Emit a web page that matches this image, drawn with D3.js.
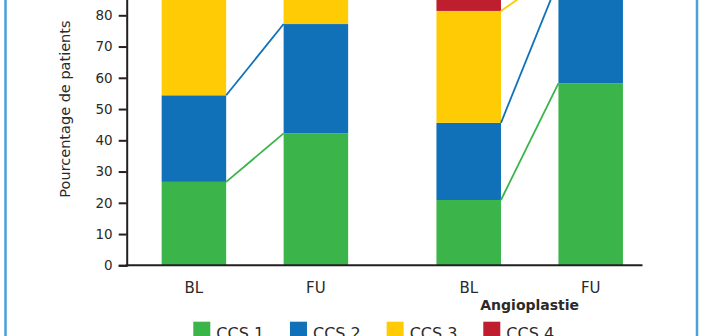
<!DOCTYPE html>
<html><head><meta charset="utf-8">
<script src="https://cdn.jsdelivr.net/npm/d3@7/dist/d3.min.js"></script>
<style>
html,body{margin:0;padding:0;background:#fff;}
svg{display:block;}
text{font-family:"DejaVu Sans",sans-serif;fill:#2b2a29;}
</style></head>
<body>
<script>
// ---- data ----
const groups = ["Pontage", "Angioplastie"];
const groupLabels = ["", "Angioplastie"];
const periods = ["BL", "FU"];
const series = ["CCS 1", "CCS 2", "CCS 3", "CCS 4"];
const colors = ["#3bb44a", "#1071b9", "#ffcb05", "#bf1e2e"];
// values per bar, order: [group1 BL, group1 FU, group2 BL, group2 FU]
const ccs1 = [26.7, 42.2, 20.9, 58.2];
const ccs2 = [27.7, 35.0, 24.7, 32.9];
const ccs3 = [42.6, 20.8, 35.8, 3.0];
const ccs4 = [3.0, 2.0, 18.6, 5.9];
const yTicks = [0, 10, 20, 30, 40, 50, 60, 70, 80, 90, 100];
const yLabel = "Pourcentage de patients";

const W = 702, H = 336;
const svg = d3.select("body").append("svg").attr("width", W).attr("height", H);

// frame lines
svg.append("line").attr("x1", 5.5).attr("x2", 5.5).attr("y1", 0).attr("y2", H)
  .attr("stroke", "#4aa0da").attr("stroke-width", 2.5);
svg.append("line").attr("x1", 697).attr("x2", 697).attr("y1", 0).attr("y2", H)
  .attr("stroke", "#4aa0da").attr("stroke-width", 2.5);

const y = d3.scaleLinear().domain([0, 100]).range([265.3, -47.2]);
const xg = d3.scaleBand().domain(groups).range([117.5, 667.1]).padding(0);
const xp = d3.scaleBand().domain(periods).range([0, xg.bandwidth()])
  .paddingInner(0.471).paddingOuter(0.362);

const vals = [ccs1, ccs2, ccs3, ccs4];
const bars = [];
groups.forEach((g, gi) => periods.forEach((p, pi) => {
  const i = gi * 2 + pi;
  const row = {group: g, period: p};
  series.forEach((s, si) => row[s] = vals[si][i]);
  bars.push(row);
}));
const stack = d3.stack().keys(series)(bars);

const barX = d => xg(d.group) + xp(d.period);
const bw = xp.bandwidth();

// bars
stack.forEach((layer, si) => {
  svg.append("g").selectAll("rect").data(layer).join("rect")
    .attr("x", d => barX(d.data))
    .attr("width", bw)
    .attr("y", d => y(d[1]))
    .attr("height", d => y(d[0]) - y(d[1]))
    .attr("fill", colors[si]);
});

// connecting lines
stack.slice(0, 3).forEach((layer, si) => {
  groups.forEach(g => {
    const a = layer.find(d => d.data.group === g && d.data.period === "BL");
    const b = layer.find(d => d.data.group === g && d.data.period === "FU");
    svg.append("line")
      .attr("x1", barX(a.data) + bw).attr("y1", y(a[1]))
      .attr("x2", barX(b.data)).attr("y2", y(b[1]))
      .attr("stroke", colors[si]).attr("stroke-width", 1.8);
  });
});

// y axis
const yAxis = svg.append("g").attr("transform", "translate(126.7,0)")
  .call(d3.axisLeft(y).tickValues(yTicks).tickSize(8).tickPadding(6));
yAxis.select(".domain").attr("stroke", "#231f20").attr("stroke-width", 2);
yAxis.selectAll(".tick line").attr("stroke", "#231f20").attr("stroke-width", 2);
yAxis.selectAll(".tick text").attr("font-size", 13.5).attr("font-family", "DejaVu Sans").attr("fill", "#2b2a29");

// x axis line
svg.append("line").attr("x1", 125.7).attr("x2", 642.5)
  .attr("y1", y(0)).attr("y2", y(0)).attr("stroke", "#231f20").attr("stroke-width", 2);

// x labels
svg.append("g").selectAll("text").data(bars).join("text")
  .attr("x", d => barX(d) + bw / 2).attr("y", 293)
  .attr("text-anchor", "middle").attr("font-size", 15)
  .text(d => d.period);

// group labels
svg.append("g").selectAll("text").data(groups).join("text")
  .attr("x", g => xg(g) + xg.bandwidth() / 2).attr("y", 309.5)
  .attr("text-anchor", "middle").attr("font-size", 14).attr("font-weight", "bold")
  .attr("font-family", "DejaVu Sans Condensed")
  .text((g, i) => groupLabels[i]);

// y label
svg.append("text")
  .attr("transform", `translate(70,${(y(0) + y(100)) / 2}) rotate(-90)`)
  .attr("text-anchor", "middle").attr("font-size", 14.5)
  .text(yLabel);

// legend
const lx = d3.scalePoint().domain(series).range([193.3, 483.3]);
const leg = svg.append("g").selectAll("g").data(series).join("g")
  .attr("transform", s => `translate(${lx(s)},321.7)`);
leg.append("rect").attr("width", 17).attr("height", 17).attr("fill", (s, i) => colors[i]);
leg.append("text").attr("x", 23).attr("y", 17).attr("font-size", 16).text(s => s);
</script>
</body></html>
